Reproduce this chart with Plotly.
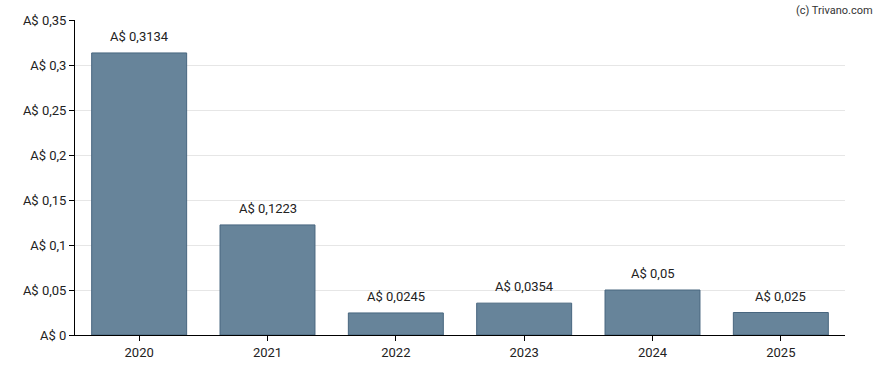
import plotly.graph_objects as go

years = ["2020", "2021", "2022", "2023", "2024", "2025"]
values = [0.3134, 0.1223, 0.0245, 0.0354, 0.05, 0.025]
bar_labels = ["A$ 0,3134", "A$ 0,1223", "A$ 0,0245", "A$ 0,0354", "A$ 0,05", "A$ 0,025"]
y_ticks = [0, 0.05, 0.1, 0.15, 0.2, 0.25, 0.3, 0.35]
y_tick_labels = ["A$ 0", "A$ 0,05", "A$ 0,1", "A$ 0,15", "A$ 0,2", "A$ 0,25", "A$ 0,3", "A$ 0,35"]

font = "Roboto, Arial, sans-serif"

fig = go.Figure()
fig.add_trace(go.Bar(
    x=years, y=values,
    marker=dict(color="#67849a", line=dict(color="#48667f", width=1)),
    width=0.74,
    hoverinfo="skip",
))

for i, (v, t) in enumerate(zip(values, bar_labels)):
    fig.add_annotation(x=i, y=v, text=t, showarrow=False, yanchor="bottom",
                       yshift=7, font=dict(family=font, size=13, color="#222"))

fig.add_annotation(xref="paper", yref="paper", x=1.039, y=1.057, xanchor="right",
                   yanchor="top", text="(c) Trivano.com", showarrow=False,
                   font=dict(family=font, size=11, color="#333"))

fig.update_layout(
    width=888, height=370,
    margin=dict(l=75, r=43, t=20, b=35),
    paper_bgcolor="white", plot_bgcolor="white",
    showlegend=False,
    font=dict(family=font, size=13, color="#222"),
    xaxis=dict(type="category", categoryorder="array", categoryarray=years,
               range=[-0.5, len(years) - 0.5], automargin=False,
               showline=True, linecolor="#000", linewidth=1,
               ticks="outside", ticklen=5, tickcolor="#000", showgrid=False,
               tickfont=dict(family=font, size=13, color="#222")),
    yaxis=dict(range=[0, 0.35], tickvals=y_ticks, ticktext=y_tick_labels,
               automargin=False,
               showline=True, linecolor="#000", linewidth=1, ticks="outside",
               ticklen=5, tickcolor="#000", showgrid=True, gridcolor="#e6e6e6",
               zeroline=False, tickfont=dict(family=font, size=13, color="#222")),
)

fig.write_html("out.html", config={"displayModeBar": False},
               post_script="document.body.style.margin='0';document.body.style.overflow='hidden';")
